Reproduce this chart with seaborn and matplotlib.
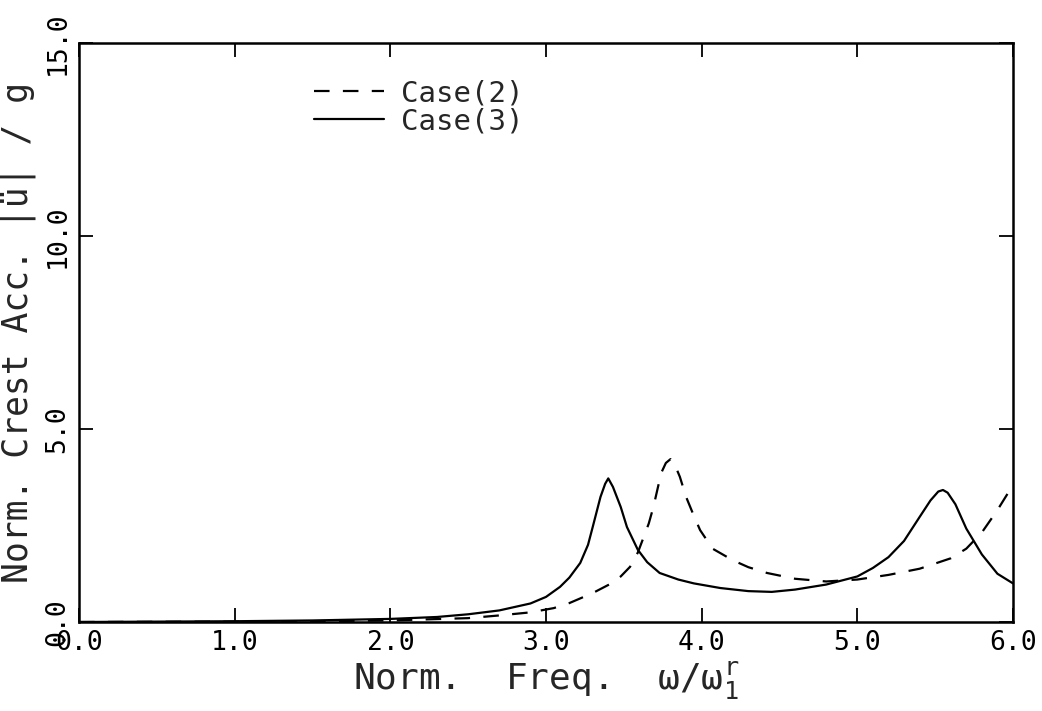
import matplotlib
matplotlib.use("Agg")
import matplotlib.pyplot as plt
import seaborn as sns
import pandas as pd

# ---- data ----
freq_case2 = [0.0, 0.5, 1.0, 1.5, 2.0, 2.5, 2.7, 2.9, 3.05, 3.15, 3.3, 3.41, 3.48, 3.54,
              3.59, 3.62, 3.66, 3.69, 3.74, 3.77, 3.8, 3.83, 3.86, 3.9, 3.95, 3.99,
              4.07, 4.2, 4.3, 4.42, 4.6, 4.8, 5.0, 5.2, 5.4, 5.6, 5.7, 5.8, 5.9, 6.0]
acc_case2 = [0.0, 0.005, 0.01, 0.02, 0.04, 0.1, 0.17, 0.25, 0.36, 0.49, 0.75, 0.98, 1.18, 1.43,
             1.8, 2.12, 2.55, 2.98, 3.86, 4.12, 4.22, 4.05, 3.76, 3.24, 2.75, 2.38,
             1.9, 1.6, 1.42, 1.27, 1.12, 1.05, 1.1, 1.22, 1.38, 1.65, 1.9, 2.32, 2.9, 3.55]

freq_case3 = [0.0, 0.5, 1.0, 1.5, 2.0, 2.3, 2.5, 2.7, 2.9, 3.0, 3.09, 3.15, 3.22, 3.27,
              3.3, 3.35, 3.38, 3.4, 3.43, 3.48, 3.52, 3.59, 3.65, 3.73, 3.85, 3.95,
              4.12, 4.3, 4.45, 4.6, 4.8, 5.0, 5.1, 5.2, 5.3, 5.4, 5.47, 5.52, 5.55,
              5.58, 5.63, 5.7, 5.8, 5.9, 6.0]
acc_case3 = [0.0, 0.01, 0.02, 0.04, 0.08, 0.13, 0.2, 0.3, 0.48, 0.65, 0.91, 1.15, 1.53, 2.0,
             2.46, 3.24, 3.58, 3.72, 3.5, 2.98, 2.46, 1.87, 1.55, 1.27, 1.1, 1.0,
             0.88, 0.8, 0.78, 0.84, 0.97, 1.18, 1.4, 1.68, 2.1, 2.72, 3.15, 3.38, 3.42,
             3.35, 3.05, 2.42, 1.75, 1.25, 1.0]

x_ticks = [0, 1, 2, 3, 4, 5, 6]
x_tick_labels = ["0.0", "1.0", "2.0", "3.0", "4.0", "5.0", "6.0"]
y_ticks = [0, 5, 10, 15]
y_tick_labels = ["0.0", "5.0", "10.0", "15.0"]
series_names = ["Case(2)", "Case(3)"]

df = pd.concat([
    pd.DataFrame({"freq": freq_case2, "acc": acc_case2, "case": series_names[0]}),
    pd.DataFrame({"freq": freq_case3, "acc": acc_case3, "case": series_names[1]}),
])

sns.set_style("white")
plt.rcParams["font.family"] = ["DejaVu Sans Mono", "DejaVu Sans"]
plt.rcParams["mathtext.fontset"] = "custom"
plt.rcParams["mathtext.rm"] = "DejaVu Sans Mono"
plt.rcParams["mathtext.it"] = "DejaVu Sans Mono"

fig = plt.figure(figsize=(10.42, 7.11), dpi=100)
ax = fig.add_axes([79 / 1042, 1 - 622 / 711, (1013 - 79) / 1042, (622 - 43) / 711])

sns.lineplot(data=df, x="freq", y="acc", hue="case", style="case",
             palette=["black", "black"],
             dashes={series_names[0]: (7, 6), series_names[1]: ""},
             linewidth=1.6, ax=ax, sort=False, estimator=None)

ax.set_xlim(0, 6)
ax.set_ylim(0, 15)
ax.set_xticks(x_ticks)
ax.set_xticklabels(x_tick_labels, fontsize=19)
ax.set_yticks(y_ticks)
ax.set_yticklabels(y_tick_labels, fontsize=19, rotation=90, va="center")
ax.tick_params(axis="both", direction="in", length=10, width=1.3, color="black",
               labelcolor="black", bottom=True, left=True, top=True, right=True)
ax.tick_params(axis="x", pad=6)
ax.tick_params(axis="y", pad=6)
for s in ax.spines.values():
    s.set_color("black")
    s.set_linewidth(1.8)

ax.set_xlabel("Norm.  Freq.  ω/ω$_{1}^{r}$", fontsize=26, labelpad=2)
ax.set_ylabel("Norm. Crest Acc. |ü| / g", fontsize=25, labelpad=6)

leg = ax.legend(loc="center left", bbox_to_anchor=(0.223, 0.889), frameon=False,
                fontsize=21, handlelength=2.4, handletextpad=0.6, labelspacing=0.0)
for h in leg.get_lines():
    h.set_linewidth(1.6)
    h.set_color("black")

fig.savefig("out.png", dpi=100, facecolor="white")
